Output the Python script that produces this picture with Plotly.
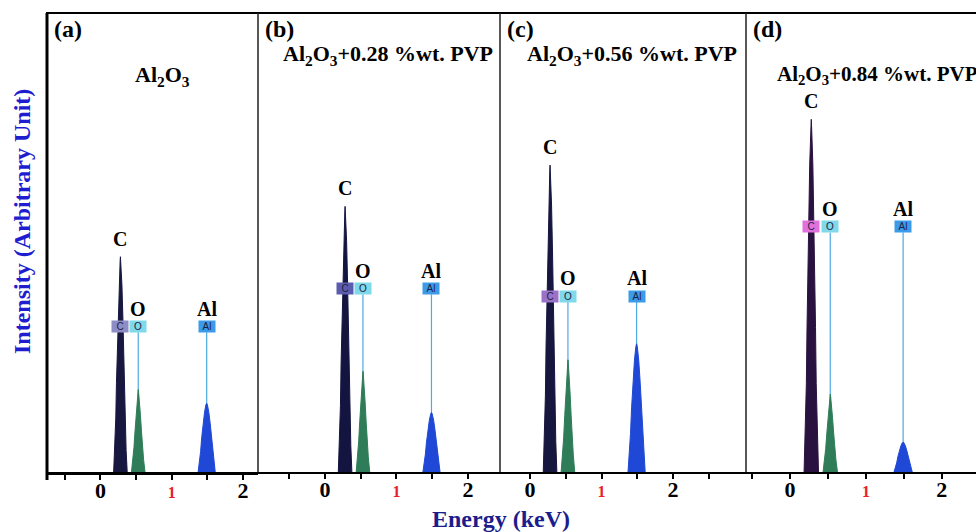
import plotly.graph_objects as go

W, H = 976, 532

# ---------------- data ----------------
PANEL_TAGS = ["(a)", "(b)", "(c)", "(d)"]
PANEL_TITLES = [
    "Al<sub>2</sub>O<sub>3</sub>",
    "Al<sub>2</sub>O<sub>3</sub>+0.28 %wt. PVP",
    "Al<sub>2</sub>O<sub>3</sub>+0.56 %wt. PVP",
    "Al<sub>2</sub>O<sub>3</sub>+0.84 %wt. PVP",
]
ELEMENTS = ["C", "O", "Al"]
PEAK_ENERGY = [0.28, 0.53, 1.49]  # keV

# energy samples (keV) across each peak
C_E = [0.185, 0.2, 0.215, 0.224, 0.235, 0.245, 0.259, 0.276, 0.28, 0.284, 0.301, 0.315, 0.325, 0.336, 0.345, 0.36, 0.375]
O_E = [0.435, 0.455, 0.47, 0.485, 0.5, 0.515, 0.526, 0.53, 0.534, 0.545, 0.56, 0.575, 0.59, 0.605, 0.625]
AL_E = [1.37, 1.39, 1.405, 1.42, 1.44, 1.46, 1.48, 1.49, 1.5, 1.52, 1.54, 1.56, 1.575, 1.59, 1.61]

# intensities (arbitrary units) per panel
C_I = [
    [0, 4.7, 11.8, 19.3, 25.9, 33.4, 40.9, 46.1, 47.0, 46.1, 40.9, 33.4, 25.9, 19.3, 11.8, 4.7, 0],
    [0, 5.8, 14.5, 23.8, 31.9, 41.2, 50.5, 56.8, 58.0, 56.8, 50.5, 41.2, 31.9, 23.8, 14.5, 5.8, 0],
    [0, 6.7, 16.8, 27.5, 36.9, 47.6, 58.3, 65.7, 67.0, 65.7, 58.3, 47.6, 36.9, 27.5, 16.8, 6.7, 0],
    [0, 7.7, 19.3, 31.6, 42.4, 54.7, 67.0, 75.5, 77.0, 75.5, 67.0, 54.7, 42.4, 31.6, 19.3, 7.7, 0],
]
O_I = [
    [0, 2.7, 5.4, 9.0, 12.6, 15.8, 17.6, 18.0, 17.6, 15.8, 12.6, 9.0, 5.4, 2.7, 0],
    [0, 3.3, 6.6, 11.0, 15.4, 19.4, 21.6, 22.0, 21.6, 19.4, 15.4, 11.0, 6.6, 3.3, 0],
    [0, 3.7, 7.4, 12.3, 17.2, 21.6, 24.0, 24.5, 24.0, 21.6, 17.2, 12.3, 7.4, 3.7, 0],
    [0, 2.6, 5.1, 8.5, 11.9, 15.0, 16.7, 17.0, 16.7, 15.0, 11.9, 8.5, 5.1, 2.6, 0],
]
AL_I = [
    [0, 2.25, 4.5, 7.5, 10.5, 13.05, 14.7, 15.0, 14.7, 13.05, 10.5, 7.5, 4.5, 2.25, 0],
    [0, 1.95, 3.9, 6.5, 9.1, 11.3, 12.7, 13.0, 12.7, 11.3, 9.1, 6.5, 3.9, 1.95, 0],
    [0, 4.2, 8.4, 14.0, 19.6, 24.4, 27.4, 28.0, 27.4, 24.4, 19.6, 14.0, 8.4, 4.2, 0],
    [0, 1.0, 2.0, 3.3, 4.6, 5.7, 6.4, 6.5, 6.4, 5.7, 4.6, 3.3, 2.0, 1.0, 0],
]
MARKER_LEVEL = [31.7, 40.0, 38.4, 53.5]  # height of element marker boxes

X_RANGES = [[-0.75, 2.21], [-0.94, 2.45], [-0.42, 3.02], [-0.58, 2.45]]
TICK_VALS = [-0.5, 0, 0.5, 1, 1.5, 2, 2.5]
TICK_TEXT = ["", "<b>0</b>", "", "<span style='color:#e8202a;font-size:16px'><b>1</b></span>", "", "<b>2</b>", ""]

# ---------------- styles ----------------
SERIF = "Liberation Serif, Times New Roman, serif"
C_COLORS = ["#17173f", "#141440", "#16163e", "#2a1240"]
O_COLOR = "#2f7d58"
AL_COLOR = "#1f48d6"
MARK_LINE = "#4ea9e2"
C_BOX = ["#8c8cc6", "#5c5cae", "#9a72c8", "#e071dc"]
O_BOX = "#7fd9ea"
AL_BOX = "#3b9be9"

# panel pixel boundaries
PX_EDGES = [47, 258, 500, 746, 976]
TOP_PX, BOT_PX = 14, 472

def px(x):
    return x / W

def py(y):
    return 1 - y / H

fig = go.Figure()
annotations = []
shapes = []

for i in range(4):
    xa = "x" if i == 0 else f"x{i+1}"
    ya = "y" if i == 0 else f"y{i+1}"
    mlevel = MARKER_LEVEL[i]

    # marker lines for O and Al
    for e in (PEAK_ENERGY[1], PEAK_ENERGY[2]):
        fig.add_trace(go.Scatter(x=[e, e], y=[0, mlevel - 1.2], mode="lines",
                                 line=dict(color=MARK_LINE, width=1.2),
                                 xaxis=xa, yaxis=ya, showlegend=False, hoverinfo="skip"))
    # peaks
    for xs, ys, col in ((C_E, C_I[i], C_COLORS[i]), (O_E, O_I[i], O_COLOR), (AL_E, AL_I[i], AL_COLOR)):
        fig.add_trace(go.Scatter(x=xs, y=ys, mode="lines", fill="tozeroy",
                                 line=dict(color=col, width=1), fillcolor=col,
                                 xaxis=xa, yaxis=ya, showlegend=False, hoverinfo="skip"))

    # marker boxes
    for e, el, bc in ((PEAK_ENERGY[0], "C", C_BOX[i]), (PEAK_ENERGY[1], "O", O_BOX), (PEAK_ENERGY[2], "Al", AL_BOX)):
        annotations.append(dict(x=e, y=mlevel, xref=xa, yref=ya, text=el, showarrow=False,
                                xanchor="center", yanchor="middle",
                                bgcolor=bc, width=16, height=11, borderpad=0,
                                font=dict(family="Liberation Sans, Arial", size=10, color="#202040")))
    # element labels
    annotations.append(dict(x=PEAK_ENERGY[0], y=max(C_I[i]), xref=xa, yref=ya, text="<b>C</b>",
                            showarrow=False, xanchor="center", yanchor="middle", yshift=18,
                            font=dict(family=SERIF, size=20, color="black")))
    for e, el in ((PEAK_ENERGY[1], "O"), (PEAK_ENERGY[2], "Al")):
        annotations.append(dict(x=e, y=mlevel, xref=xa, yref=ya, text=f"<b>{el}</b>",
                                showarrow=False, xanchor="center", yanchor="middle", yshift=18,
                                font=dict(family=SERIF, size=20, color="black")))

    # panel tag
    annotations.append(dict(x=px(PX_EDGES[i] + 5), y=py(29), xref="paper", yref="paper",
                            text=f"<b>{PANEL_TAGS[i]}</b>", showarrow=False,
                            xanchor="left", yanchor="middle",
                            font=dict(family=SERIF, size=24, color="black")))

# panel titles (x, y in pixels, anchor, size)
TITLE_POS = [(162, 76, "center", 22), (388, 55, "center", 22), (632, 55, "center", 22), (775, 75, "left", 21)]
for t, (tx, ty, anc, fs) in zip(PANEL_TITLES, TITLE_POS):
    annotations.append(dict(x=px(tx), y=py(ty), xref="paper", yref="paper", text=f"<b>{t}</b>",
                            showarrow=False, xanchor=anc, yanchor="middle",
                            font=dict(family=SERIF, size=fs, color="black")))

# axis titles
annotations.append(dict(x=px(22), y=py(222), xref="paper", yref="paper", text="<b>Intensity (Arbitrary Unit)</b>",
                        textangle=-90, showarrow=False, xanchor="center", yanchor="middle",
                        font=dict(family=SERIF, size=24, color="#1e1ed0")))
annotations.append(dict(x=px(501), y=py(519), xref="paper", yref="paper", text="<b>Energy (keV)</b>",
                        showarrow=False, xanchor="center", yanchor="middle",
                        font=dict(family=SERIF, size=24, color="#1c1c8c")))

for a in annotations:
    fig.add_annotation(**a)

# frame lines
shapes.append(dict(type="line", xref="paper", yref="paper", x0=px(46), x1=1, y0=py(13), y1=py(13),
                   line=dict(color="black", width=2)))
shapes.append(dict(type="line", xref="paper", yref="paper", x0=px(47), x1=px(47), y0=py(13), y1=py(480),
                   line=dict(color="black", width=3)))
for xe in PX_EDGES[1:4]:
    shapes.append(dict(type="line", xref="paper", yref="paper", x0=px(xe), x1=px(xe), y0=py(13), y1=py(BOT_PX),
                       line=dict(color="#202020", width=1.5)))
for s in shapes:
    fig.add_shape(**s)

layout = dict(width=W, height=H, margin=dict(l=0, r=0, t=0, b=0),
              paper_bgcolor="white", plot_bgcolor="white", showlegend=False)
for i in range(4):
    xk = "xaxis" if i == 0 else f"xaxis{i+1}"
    yk = "yaxis" if i == 0 else f"yaxis{i+1}"
    layout[xk] = dict(domain=[px(PX_EDGES[i]), px(PX_EDGES[i + 1])], range=X_RANGES[i],
                      anchor="y" if i == 0 else f"y{i+1}",
                      tickvals=TICK_VALS, ticktext=TICK_TEXT, ticks="outside", ticklen=5,
                      tickwidth=1.5, tickcolor="black", ticklabelstandoff=-8,
                      showline=True, linecolor="black", linewidth=3 if i == 0 else 2,
                      showgrid=False, zeroline=False,
                      tickfont=dict(family=SERIF, size=22, color="black"))
    layout[yk] = dict(domain=[py(BOT_PX), py(TOP_PX)], range=[0, 100],
                      anchor="x" if i == 0 else f"x{i+1}",
                      showticklabels=False, showgrid=False, zeroline=False, ticks="",
                      showline=False)
fig.update_layout(**layout)

fig.write_html("out.html")
